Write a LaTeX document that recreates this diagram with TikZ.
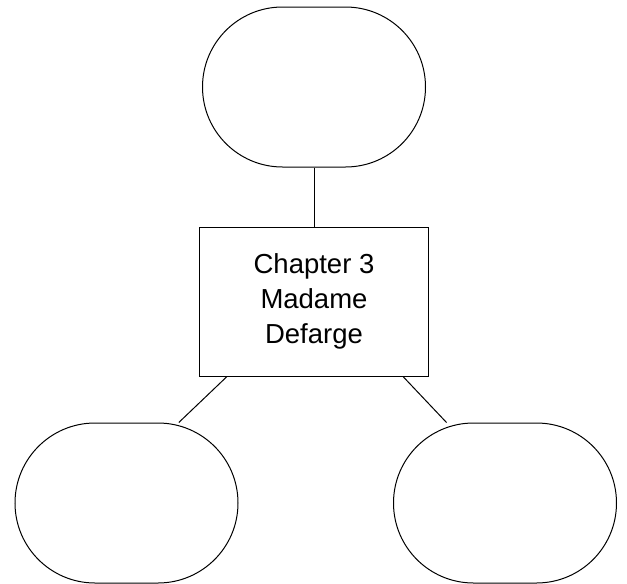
\documentclass[tikz,border=0pt]{standalone}
\usepackage{fontspec}
\setmainfont{Liberation Sans}
\begin{document}
\begin{tikzpicture}[x=1pt,y=-1pt,line width=1pt,
  oval/.style={draw, rounded corners=80pt, minimum width=223pt, minimum height=160pt, inner sep=0pt},
  chapbox/.style={draw, minimum width=229pt, minimum height=149pt, inner sep=0pt, align=center,
    font=\fontsize{27.5pt}{35pt}\selectfont}]
\useasboundingbox (0,0) rectangle (627,584);

\node[oval] (top) at (314, 87) {};
\node[chapbox] (chap) at (314, 301.5) {Chapter 3\\Madame\\Defarge};
\node[oval] (left) at (126.5, 503) {};
\node[oval] (right) at (505, 503) {};

\draw (top) -- (chap);
\draw ([xshift=28pt]chap.south west) -- (left.57);
\draw ([xshift=-26pt]chap.south east) -- (right.126);

\end{tikzpicture}
\end{document}
